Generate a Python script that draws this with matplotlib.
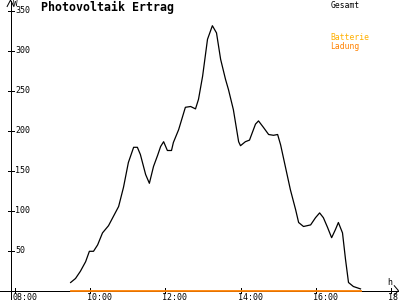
import numpy as np
import matplotlib
matplotlib.use("Agg")
import matplotlib.pyplot as plt

plt.rcParams['font.family'] = ['DejaVu Sans Mono']

# Gesamt-Ertrag (W) ueber die Uhrzeit (h)
hours = [9.47, 9.60, 9.73, 9.87, 9.97, 10.08, 10.19, 10.32, 10.48, 10.75,
         10.88, 11.01, 11.15, 11.25, 11.33, 11.47, 11.57, 11.68, 11.79, 11.87,
         11.95, 12.05, 12.16, 12.21, 12.35, 12.53, 12.67, 12.80, 12.88, 12.99,
         13.12, 13.25, 13.36, 13.47, 13.60, 13.68, 13.81, 13.95, 14.00, 14.13,
         14.24, 14.40, 14.48, 14.61, 14.75, 14.88, 14.99, 15.07, 15.20, 15.33,
         15.47, 15.55, 15.68, 15.87, 16.00, 16.11, 16.21, 16.32, 16.43, 16.53,
         16.61, 16.72, 16.80, 16.88, 17.01, 17.20]
gesamt = [10, 15, 24, 36, 49, 49, 57, 72, 81, 105,
          129, 160, 179, 179, 170, 145, 134, 155, 169, 180,
          186, 175, 175, 185, 201, 229, 230, 227, 239, 268,
          314, 331, 322, 289, 264, 251, 226, 186, 181, 186,
          188, 208, 212, 204, 195, 194, 195, 182, 154, 126,
          101, 85, 80, 82, 91, 97, 91, 79, 66, 76,
          85, 72, 39, 10, 5, 2]

# Batterie-Ladung: null ueber den ganzen Tag
ladung_hours = [9.47, 17.20]
ladung = [0, 0]

y_ticks = [50, 100, 150, 200, 250, 300, 350]
x_ticks = [8, 10, 12, 14, 16, 18]
x_labels = ["08:00", "10:00", "12:00", "14:00", "16:00", "18:00"]

fig = plt.figure(figsize=(4, 3), dpi=100)
ax = fig.add_axes([0, 0, 1, 1])
ax.set_xlim(7.5867, 18.2533)
ax.set_ylim(-11.875, 363.125)
ax.axis('off')

x_axis = 7.867
dx = 0.08   # tick half-length in hours
dy = 3.5    # tick half-length in W
thin = dict(color='k', lw=0.72)

# axes with arrows
ax.plot([x_axis, x_axis], [-12, 362], **thin)
ax.plot([7.58, 18.2], [0, 0], **thin)
ax.plot([x_axis - 0.09, x_axis, x_axis + 0.09], [355, 363, 355], **thin)
ax.plot([18.1, 18.21, 18.1], [6, 0, -6], **thin)

for v in y_ticks:
    ax.plot([x_axis - dx, x_axis + dx], [v, v], **thin)
    ax.text(x_axis + 0.12, v, str(v), fontsize=6, va='center', ha='left')
for h, lab in zip(x_ticks, x_labels):
    ax.plot([h, h], [-dy, dy], **thin)
    ax.text(h - 0.08, -3.5, lab, fontsize=6, va='top', ha='left')

ax.text(x_axis + 0.07, 364, "W", fontsize=5.5, va='top', ha='left')
ax.text(17.9, 4, "h", fontsize=6, va='bottom', ha='left')

ax.plot(ladung_hours, ladung, color='#ff8000', lw=1.3, snap=True, zorder=3)
ax.plot(hours, gesamt, color='k', lw=0.9, zorder=4)

ax.text(8.67, 362, "Photovoltaik Ertrag", fontsize=8.4, fontweight='bold',
        va='top', ha='left')
ax.text(16.4, 362, "Gesamt", fontsize=5.8, va='top', ha='left')
ax.text(16.4, 322, "Batterie", fontsize=5.8, va='top', ha='left', color='#ffb000')
ax.text(16.4, 311, "Ladung", fontsize=5.8, va='top', ha='left', color='#ff8000')

fig.savefig("out.png", dpi=100)
